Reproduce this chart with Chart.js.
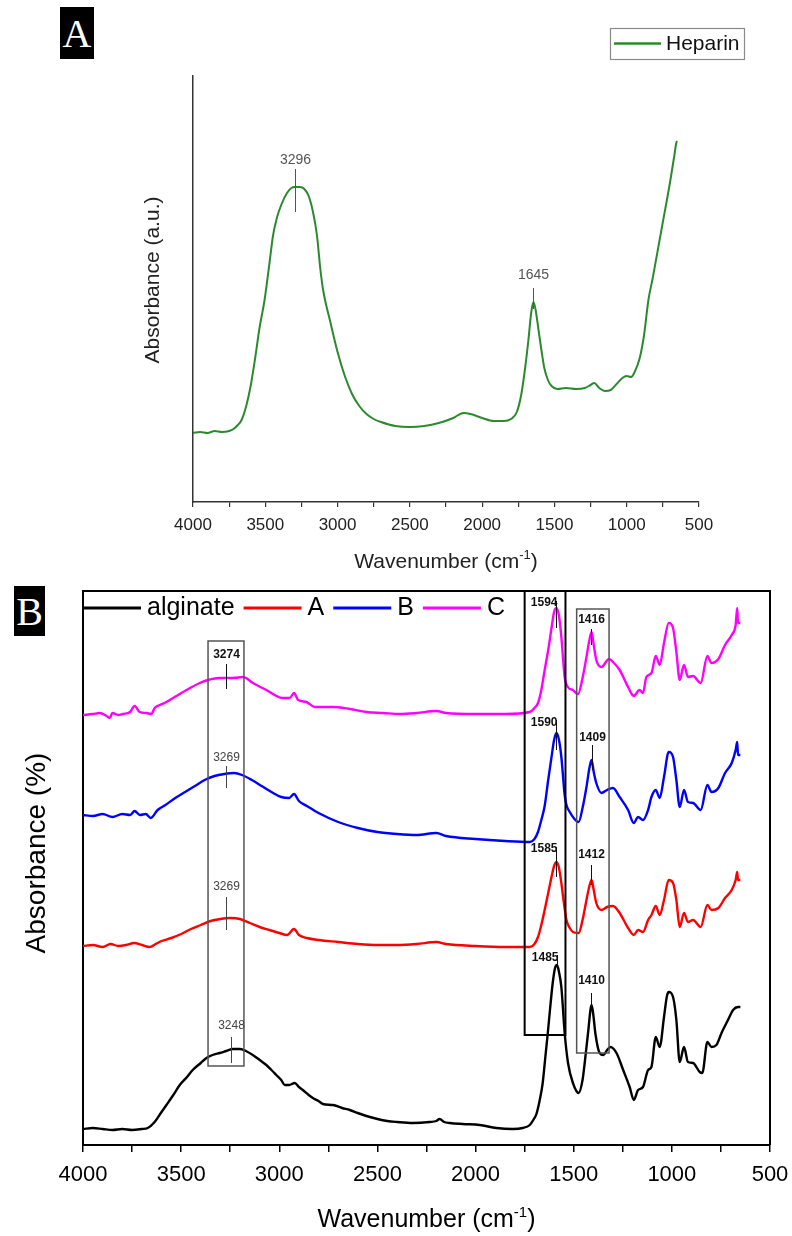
<!DOCTYPE html>
<html>
<head>
<meta charset="utf-8">
<script src="https://cdn.jsdelivr.net/npm/chart.js@4.4.1/dist/chart.umd.min.js"></script>
<style>
  html, body { margin: 0; padding: 0; background: #fff; }
  #page { position: relative; width: 792px; height: 1236px; overflow: hidden; }
  canvas { position: absolute; left: 0; }
  #chartA { top: 0; }
  #chartB { top: 575px; }
  .badge { position: absolute; background: #000; color: #fff; text-align: center;
           font-family: "Liberation Serif", "DejaVu Serif", serif; font-size: 40px; }
</style>
</head>
<body>
<div id="page">
  <canvas id="chartA" width="792" height="575"></canvas>
  <canvas id="chartB" width="792" height="661"></canvas>
  <div class="badge" style="left:60px;top:7px;width:34px;height:52px;line-height:54px;">A</div>
  <div class="badge" style="left:14px;top:586px;width:31px;height:50px;line-height:52px;">B</div>
</div>
<script>
// ---- Panel A: heparin spectrum (wavenumber, absorbance a.u.) ----
const heparinWn = [4000, 3950, 3900, 3850, 3800, 3750, 3720, 3690, 3664, 3630, 3600, 3570, 3540, 3505,
  3470, 3447, 3420, 3390, 3350, 3320, 3296, 3260, 3230, 3200, 3170, 3142, 3120, 3100, 3050, 3000,
  2950, 2900, 2850, 2800, 2750, 2700, 2600, 2500, 2400, 2300, 2200, 2130, 2080, 2000, 1920, 1850,
  1800, 1760, 1730, 1700, 1680, 1660, 1645, 1630, 1610, 1590, 1570, 1545, 1520, 1480, 1420, 1350,
  1290, 1250, 1225, 1190, 1150, 1110, 1070, 1030, 1000, 970, 945, 910, 880, 850, 820, 800, 750,
  700, 670, 660, 655, 652];
const heparinAbs = [0.69, 0.70, 0.69, 0.71, 0.70, 0.71, 0.73, 0.77, 0.82, 0.97, 1.17, 1.44, 1.74, 2.02,
  2.40, 2.66, 2.84, 2.97, 3.09, 3.14, 3.15, 3.15, 3.13, 3.06, 2.90, 2.66, 2.34, 2.12, 1.80, 1.50,
  1.26, 1.08, 0.96, 0.88, 0.83, 0.80, 0.76, 0.75, 0.76, 0.79, 0.84, 0.89, 0.88, 0.84, 0.81, 0.81,
  0.83, 0.90, 1.07, 1.37, 1.62, 1.90, 2.00, 1.92, 1.72, 1.52, 1.34, 1.22, 1.16, 1.13, 1.14, 1.13,
  1.14, 1.17, 1.19, 1.14, 1.11, 1.12, 1.18, 1.24, 1.26, 1.25, 1.30, 1.44, 1.67, 2.02, 2.24, 2.40, 2.80,
  3.20, 3.47, 3.57, 3.60, 3.61];

// ---- Panel B: stacked spectra (wavenumber, absorbance %) ----
const alginateWn = [4000, 3950, 3900, 3850, 3800, 3750, 3700, 3670, 3635, 3600, 3575, 3540, 3507, 3470,
  3441, 3400, 3371, 3340, 3303, 3270, 3236, 3200, 3170, 3135, 3100, 3066, 3040, 3015, 2990, 2972, 2950,
  2921, 2900, 2880, 2850, 2829, 2800, 2778, 2727, 2680, 2641, 2600, 2556, 2500, 2450, 2400, 2320, 2234,
  2200, 2183, 2160, 2132, 2065, 1979, 1894, 1810, 1760, 1724, 1700, 1690, 1673, 1658, 1645, 1632, 1620,
  1607, 1595, 1585, 1575, 1563, 1546, 1529, 1504, 1475, 1455, 1444, 1427, 1409, 1400, 1390, 1368, 1348,
  1330, 1313, 1282, 1248, 1215, 1194, 1172, 1147, 1121, 1104, 1082, 1062, 1040, 1025, 1016, 994, 977,
  960, 938, 918, 892, 858, 845, 819, 798, 773, 747, 714, 688, 663, 651];
const alginateAbs = [0.16, 0.17, 0.16, 0.15, 0.16, 0.15, 0.16, 0.17, 0.23, 0.33, 0.40, 0.50, 0.60, 0.68,
  0.75, 0.82, 0.87, 0.90, 0.92, 0.94, 0.96, 0.96, 0.94, 0.90, 0.85, 0.80, 0.75, 0.70, 0.65, 0.60, 0.60,
  0.62, 0.58, 0.55, 0.50, 0.47, 0.44, 0.41, 0.40, 0.37, 0.35, 0.32, 0.29, 0.26, 0.24, 0.23, 0.22, 0.23,
  0.24, 0.26, 0.23, 0.22, 0.21, 0.20, 0.17, 0.16, 0.17, 0.20, 0.27, 0.31, 0.45, 0.62, 0.87, 1.12, 1.37,
  1.62, 1.77, 1.80, 1.73, 1.58, 1.12, 0.82, 0.62, 0.52, 0.65, 0.82, 1.12, 1.40, 1.30, 1.12, 0.92, 0.90,
  0.95, 0.98, 0.92, 0.75, 0.58, 0.45, 0.55, 0.58, 0.75, 0.78, 1.08, 0.98, 1.28, 1.49, 1.53, 1.48, 1.25,
  0.83, 0.98, 0.83, 0.82, 0.73, 0.72, 1.03, 0.98, 1.00, 1.12, 1.25, 1.35, 1.38, 1.38];

const sampleAWn = [4000, 3950, 3900, 3860, 3820, 3780, 3740, 3700, 3660, 3630, 3600, 3550, 3500, 3450,
  3400, 3350, 3300, 3250, 3200, 3150, 3100, 3050, 3000, 2960, 2925, 2900, 2860, 2800, 2700, 2600, 2500,
  2400, 2300, 2200, 2150, 2000, 1850, 1724, 1700, 1682, 1665, 1648, 1630, 1613, 1600, 1588, 1575, 1563,
  1550, 1537, 1520, 1504, 1475, 1455, 1435, 1420, 1409, 1398, 1385, 1359, 1330, 1300, 1266, 1223, 1194,
  1172, 1147, 1121, 1104, 1082, 1062, 1040, 1016, 994, 977, 960, 938, 918, 892, 853, 819, 798, 763, 729,
  695, 675, 667, 663, 651];
const sampleAAbs = [1.99, 2.00, 1.98, 2.01, 1.99, 2.00, 2.02, 2.00, 1.98, 2.01, 2.04, 2.07, 2.11, 2.16,
  2.20, 2.24, 2.26, 2.27, 2.26, 2.22, 2.18, 2.15, 2.12, 2.10, 2.16, 2.10, 2.07, 2.05, 2.03, 2.01, 2.00,
  2.00, 2.01, 2.03, 2.01, 1.99, 1.98, 1.98, 2.01, 2.08, 2.20, 2.35, 2.52, 2.68, 2.79, 2.83, 2.77, 2.62,
  2.42, 2.25, 2.17, 2.13, 2.12, 2.25, 2.45, 2.59, 2.65, 2.55, 2.42, 2.35, 2.38, 2.39, 2.32, 2.17, 2.10,
  2.15, 2.13, 2.25, 2.30, 2.39, 2.30, 2.45, 2.65, 2.62, 2.45, 2.18, 2.32, 2.23, 2.25, 2.18, 2.40, 2.35,
  2.37, 2.47, 2.55, 2.65, 2.73, 2.65, 2.65];

const sampleBWn = [4000, 3950, 3900, 3850, 3800, 3760, 3737, 3710, 3680, 3655, 3620, 3580, 3530, 3480,
  3430, 3380, 3330, 3280, 3230, 3190, 3140, 3090, 3040, 2990, 2950, 2925, 2900, 2860, 2800, 2700, 2600,
  2500, 2400, 2300, 2200, 2150, 2000, 1850, 1724, 1700, 1682, 1665, 1648, 1630, 1613, 1600, 1588, 1575,
  1563, 1546, 1537, 1520, 1500, 1475, 1455, 1435, 1420, 1409, 1398, 1385, 1359, 1330, 1300, 1266, 1223,
  1194, 1172, 1147, 1121, 1104, 1082, 1062, 1040, 1016, 994, 977, 960, 938, 918, 892, 853, 819, 798, 763,
  729, 695, 675, 667, 663, 651];
const sampleBAbs = [3.30, 3.29, 3.31, 3.28, 3.31, 3.30, 3.34, 3.30, 3.31, 3.27, 3.35, 3.40, 3.47, 3.53,
  3.59, 3.65, 3.69, 3.71, 3.72, 3.70, 3.65, 3.59, 3.53, 3.48, 3.47, 3.51, 3.44, 3.39, 3.32, 3.23, 3.17,
  3.13, 3.11, 3.10, 3.12, 3.09, 3.06, 3.04, 3.03, 3.06, 3.13, 3.25, 3.39, 3.65, 3.88, 4.05, 4.12, 4.05,
  3.88, 3.50, 3.40, 3.33, 3.27, 3.23, 3.37, 3.58, 3.77, 3.85, 3.73, 3.62, 3.52, 3.55, 3.57, 3.48, 3.35,
  3.22, 3.28, 3.25, 3.35, 3.48, 3.55, 3.47, 3.68, 3.93, 3.88, 3.65, 3.38, 3.55, 3.43, 3.42, 3.35, 3.60,
  3.53, 3.57, 3.72, 3.82, 3.95, 4.03, 3.90, 3.90];

const sampleCWn = [4000, 3950, 3915, 3880, 3864, 3850, 3820, 3797, 3760, 3737, 3711, 3677, 3652, 3635,
  3609, 3575, 3524, 3473, 3405, 3363, 3303, 3235, 3185, 3134, 3066, 2981, 2947, 2925, 2904, 2862, 2820,
  2726, 2641, 2556, 2471, 2387, 2300, 2200, 2150, 2000, 1850, 1724, 1700, 1682, 1665, 1648, 1630, 1613,
  1600, 1588, 1575, 1563, 1546, 1530, 1505, 1478, 1455, 1435, 1420, 1409, 1398, 1385, 1359, 1320, 1300,
  1266, 1223, 1194, 1165, 1147, 1130, 1104, 1082, 1062, 1040, 1016, 994, 977, 960, 938, 918, 892, 853,
  819, 798, 763, 729, 695, 675, 667, 663, 651];
const sampleCAbs = [4.30, 4.31, 4.32, 4.29, 4.27, 4.32, 4.30, 4.31, 4.33, 4.39, 4.33, 4.32, 4.31, 4.37,
  4.40, 4.43, 4.49, 4.55, 4.62, 4.65, 4.67, 4.67, 4.68, 4.62, 4.55, 4.47, 4.47, 4.52, 4.45, 4.43, 4.38,
  4.38, 4.36, 4.33, 4.32, 4.31, 4.32, 4.34, 4.32, 4.31, 4.31, 4.33, 4.37, 4.42, 4.55, 4.75, 4.95, 5.17,
  5.33, 5.37, 5.29, 5.08, 4.68, 4.58, 4.55, 4.51, 4.67, 4.88, 5.05, 5.13, 5.00, 4.85, 4.78, 4.86, 4.83,
  4.75, 4.58, 4.49, 4.55, 4.52, 4.68, 4.72, 4.89, 4.80, 5.02, 5.22, 5.17, 4.93, 4.65, 4.80, 4.68, 4.69,
  4.62, 4.89, 4.82, 4.86, 5.00, 5.10, 5.20, 5.37, 5.22, 5.22];

const xTickStep = 250;
const xLabelStep = 500;

// peak annotations: label text, where the marker sits, label height and marker span (data units)
const peaksA = [
  { text: '3296', at: 3296, label: 3.42, tick: [3.33, 2.90], align: 'center', bold: false, color: '#555' },
  { text: '1645', at: 1645, label: 2.27, tick: [2.14, 1.93], align: 'center', bold: false, color: '#555' }
];
const peaksB = [
  { text: '3274', at: 3274, label: 4.90, tick: [4.81, 4.56], align: 'center', bold: true, color: '#111' },
  { text: '3269', at: 3269, label: 3.87, tick: [3.79, 3.57], align: 'center', bold: false, color: '#444' },
  { text: '3269', at: 3269, label: 2.58, tick: [2.48, 2.15], align: 'center', bold: false, color: '#444' },
  { text: '3248', at: 3248, label: 1.19, tick: [1.08, 0.82], align: 'center', bold: false, color: '#444' },
  { text: '1594', at: 1590, label: 5.42, tick: [5.44, 5.17], align: 'right', bold: true, color: '#111' },
  { text: '1590', at: 1590, label: 4.22, tick: [4.25, 3.95], align: 'right', bold: true, color: '#111' },
  { text: '1585', at: 1588, label: 2.96, tick: [2.98, 2.68], align: 'right', bold: true, color: '#111' },
  { text: '1485', at: 1587, label: 1.87, tick: [1.90, 1.78], align: 'right', bold: true, color: '#111' },
  { text: '1416', at: 1411, label: 5.25, tick: [5.16, 5.00], align: 'center', bold: true, color: '#111' },
  { text: '1409', at: 1409, label: 4.07, tick: [4.00, 3.75], align: 'center', bold: true, color: '#111' },
  { text: '1412', at: 1410, label: 2.90, tick: [2.80, 2.60], align: 'center', bold: true, color: '#111' },
  { text: '1410', at: 1410, label: 1.64, tick: [1.52, 1.38], align: 'center', bold: true, color: '#111' }
];
// highlight boxes in panel B (wavenumber span, absorbance span)
const boxesB = [
  { from: 3363, to: 3180, top: 5.04, bottom: 0.79, color: '#555', width: 1.5 },
  { from: 1750, to: 1542, top: 5.54, bottom: 1.10, color: '#000', width: 2 },
  { from: 1485, to: 1320, top: 5.36, bottom: 0.92, color: '#555', width: 1.5 }
];

const SANS = '"Liberation Sans", Arial, sans-serif';

function toPoints(wn, abs) {
  return wn.map((w, i) => ({ x: w, y: abs[i] }));
}

// draws "Wavenumber (cm-1)" with a real superscript, centred on cx
function drawWaveTitle(ctx, cx, baseline, size, color) {
  const main = 'Wavenumber (cm', sup = '-1', end = ')';
  ctx.fillStyle = color;
  ctx.textBaseline = 'alphabetic';
  ctx.textAlign = 'left';
  ctx.font = size + 'px ' + SANS;
  const w1 = ctx.measureText(main).width, w3 = ctx.measureText(end).width;
  ctx.font = Math.round(size * 0.6) + 'px ' + SANS;
  const w2 = ctx.measureText(sup).width;
  let sx = cx - (w1 + w2 + w3) / 2;
  ctx.font = size + 'px ' + SANS;
  ctx.fillText(main, sx, baseline);
  ctx.font = Math.round(size * 0.6) + 'px ' + SANS;
  ctx.fillText(sup, sx + w1, baseline - size * 0.42);
  ctx.font = size + 'px ' + SANS;
  ctx.fillText(end, sx + w1 + w2, baseline);
}

function drawYTitle(ctx, text, cx, cy, size, color) {
  ctx.save();
  ctx.translate(cx, cy);
  ctx.rotate(-Math.PI / 2);
  ctx.fillStyle = color;
  ctx.font = size + 'px ' + SANS;
  ctx.textAlign = 'center';
  ctx.textBaseline = 'middle';
  ctx.fillText(text, 0, 0);
  ctx.restore();
}

const peakPlugin = {
  id: 'peaks',
  afterDatasetsDraw(chart, args, opts) {
    const { ctx, scales: { x, y } } = chart;
    ctx.save();
    (opts.boxes || []).forEach(b => {
      const x1 = x.getPixelForValue(b.from), x2 = x.getPixelForValue(b.to);
      const y1 = y.getPixelForValue(b.top), y2 = y.getPixelForValue(b.bottom);
      ctx.strokeStyle = b.color;
      ctx.lineWidth = b.width;
      ctx.strokeRect(Math.min(x1, x2), y1, Math.abs(x2 - x1), y2 - y1);
    });
    (opts.marks || []).forEach(m => {
      const px = Math.round(x.getPixelForValue(m.at)) + 0.5;
      ctx.strokeStyle = m.color;
      ctx.lineWidth = 1;
      ctx.beginPath();
      ctx.moveTo(px, y.getPixelForValue(m.tick[0]));
      ctx.lineTo(px, y.getPixelForValue(m.tick[1]));
      ctx.stroke();
      ctx.fillStyle = m.color;
      ctx.font = (m.bold ? 'bold ' : '') + opts.fontSize + 'px ' + SANS;
      ctx.textAlign = m.align;
      ctx.textBaseline = 'middle';
      ctx.fillText(m.text, m.align === 'right' ? px + 1 : px, y.getPixelForValue(m.label));
    });
    ctx.restore();
  }
};

const titlesPlugin = {
  id: 'titles',
  afterDraw(chart, args, opts) {
    const { ctx, chartArea } = chart;
    ctx.save();
    if (opts.frame) {
      ctx.strokeStyle = '#000';
      ctx.lineWidth = 2;
      ctx.beginPath();
      ctx.moveTo(chartArea.left, chartArea.top);
      ctx.lineTo(chartArea.right, chartArea.top);
      ctx.lineTo(chartArea.right, chartArea.bottom);
      ctx.stroke();
    }
    drawWaveTitle(ctx, (chartArea.left + chartArea.right) / 2, opts.xBaseline, opts.xSize, opts.color);
    drawYTitle(ctx, opts.yText, opts.yX, opts.yY, opts.ySize, opts.color);
    ctx.restore();
  }
};

const legendAPlugin = {
  id: 'legendA',
  afterDraw(chart) {
    const ctx = chart.ctx;
    const ds = chart.data.datasets[0];
    ctx.save();
    ctx.strokeStyle = '#8a8a8a';
    ctx.lineWidth = 1.2;
    ctx.strokeRect(610.5, 28.5, 134, 31);
    ctx.strokeStyle = ds.borderColor;
    ctx.lineWidth = 2.5;
    ctx.beginPath();
    ctx.moveTo(614, 43.5);
    ctx.lineTo(661, 43.5);
    ctx.stroke();
    ctx.fillStyle = '#111';
    ctx.font = '21px ' + SANS;
    ctx.textAlign = 'left';
    ctx.textBaseline = 'middle';
    ctx.fillText(ds.label, 666, 44);
    ctx.restore();
  }
};

const legendBPlugin = {
  id: 'legendB',
  afterDraw(chart) {
    const { ctx, chartArea } = chart;
    const yMid = chartArea.top + 17;
    let cx = chartArea.left;
    ctx.save();
    ctx.font = '25px ' + SANS;
    ctx.textBaseline = 'middle';
    ctx.textAlign = 'left';
    chart.data.datasets.forEach(ds => {
      ctx.strokeStyle = ds.borderColor;
      ctx.lineWidth = 3;
      ctx.beginPath();
      ctx.moveTo(cx, yMid);
      ctx.lineTo(cx + 58, yMid);
      ctx.stroke();
      cx += 64;
      ctx.fillStyle = '#000';
      ctx.fillText(ds.label, cx, yMid);
      cx += ctx.measureText(ds.label).width + 9;
    });
    ctx.restore();
  }
};

function xTicks(size, color, pad) {
  return {
    stepSize: xTickStep,
    autoSkip: false,
    maxRotation: 0,
    padding: pad,
    color: color,
    font: { family: SANS, size: size },
    callback: v => (v % xLabelStep === 0 ? String(v) : '')
  };
}

// keep the plot box where the reference has it, ignoring edge-label overflow
function fixX(height) {
  return s => { s.height = height; s.paddingLeft = 0; s.paddingRight = 0; };
}

// ---- Chart A ----
new Chart(document.getElementById('chartA'), {
  type: 'line',
  data: {
    datasets: [{
      label: 'Heparin',
      data: toPoints(heparinWn, heparinAbs),
      borderColor: '#2b8a2e',
      borderWidth: 2,
      pointRadius: 0,
      cubicInterpolationMode: 'monotone',
      fill: false
    }]
  },
  options: {
    responsive: false,
    devicePixelRatio: 1,
    animation: false,
    events: [],
    layout: { padding: { left: 0, right: 93, top: 76, bottom: 0 } },
    scales: {
      x: {
        type: 'linear', min: 500, max: 4000, reverse: true,
        afterFit: fixX(73),
        border: { display: true, color: '#333', width: 1.5 },
        grid: { display: true, drawOnChartArea: false, drawTicks: true, tickLength: 5, color: '#333', lineWidth: 1.2 },
        ticks: xTicks(17, '#222', 8)
      },
      y: {
        type: 'linear', min: 0, max: 4.26,
        afterFit: s => { s.width = 193; },
        border: { display: true, color: '#333', width: 1.5 },
        grid: { display: false },
        ticks: { display: false }
      }
    },
    plugins: {
      legend: { display: false },
      tooltip: { enabled: false },
      peaks: { marks: peaksA, fontSize: 14 },
      titles: { xBaseline: 568, xSize: 21, yText: 'Absorbance (a.u.)', yX: 153, yY: 280, ySize: 21, color: '#222' }
    }
  },
  plugins: [peakPlugin, titlesPlugin, legendAPlugin]
});

// ---- Chart B ----
const seriesB = [
  { label: 'alginate', wn: alginateWn, abs: alginateAbs, color: '#000000' },
  { label: 'A', wn: sampleAWn, abs: sampleAAbs, color: '#ff0000' },
  { label: 'B', wn: sampleBWn, abs: sampleBAbs, color: '#0000ff' },
  { label: 'C', wn: sampleCWn, abs: sampleCAbs, color: '#ff00ff' }
];

new Chart(document.getElementById('chartB'), {
  type: 'line',
  data: {
    datasets: seriesB.map(s => ({
      label: s.label,
      data: toPoints(s.wn, s.abs),
      borderColor: s.color,
      borderWidth: 2.4,
      pointRadius: 0,
      cubicInterpolationMode: 'monotone',
      fill: false
    }))
  },
  options: {
    responsive: false,
    devicePixelRatio: 1,
    animation: false,
    events: [],
    layout: { padding: { left: 0, right: 22, top: 16, bottom: 0 } },
    scales: {
      x: {
        type: 'linear', min: 500, max: 4000, reverse: true,
        afterFit: fixX(91),
        border: { display: true, color: '#000', width: 2 },
        grid: { display: true, drawOnChartArea: false, drawTicks: true, tickLength: 7, color: '#000', lineWidth: 1.5 },
        ticks: xTicks(22, '#000', 10)
      },
      y: {
        type: 'linear', min: 0, max: 5.54,
        afterFit: s => { s.width = 83; },
        border: { display: true, color: '#000', width: 2 },
        grid: { display: false },
        ticks: { display: false }
      }
    },
    plugins: {
      legend: { display: false },
      tooltip: { enabled: false },
      peaks: { marks: peaksB, boxes: boxesB, fontSize: 12 },
      titles: { frame: true, xBaseline: 652, xSize: 25, yText: 'Absorbance (%)', yX: 37, yY: 278, ySize: 28, color: '#000' }
    }
  },
  plugins: [peakPlugin, titlesPlugin, legendBPlugin]
});
</script>
</body>
</html>
